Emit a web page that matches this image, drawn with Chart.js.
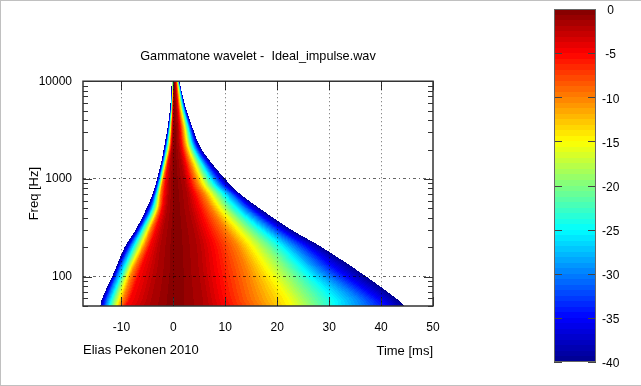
<!DOCTYPE html>
<html>
<head>
<meta charset="utf-8">
<title>Gammatone wavelet</title>
<script src="https://cdn.jsdelivr.net/npm/chart.js@4"></script>
<style>
  body { margin: 0; background: #fff; }
  canvas { position: absolute; top: 0; }
  #chart_wavelet { left: 0; }
  #chart_escala { left: 520px; }
  #moldura { position: absolute; left: 0; top: 0; width: 641px; height: 384px;
    border-top: 1px solid #c0c0c0; border-left: 1px solid #c0c0c0; border-bottom: 1px solid #c0c0c0; box-sizing: content-box; }
</style>
</head>
<body>
<canvas id="chart_wavelet" width="516" height="386"></canvas>
<canvas id="chart_escala" width="121" height="386"></canvas>
<div id="moldura"></div>
<script>
  // level (dB) reached at each time value of a row, rising then falling
  const levels = [-40, -35, -30, -25, -20, -15, -10, -5, -2, 0, -2, -5, -10, -15, -20, -25, -30, -35, -40];

  // frequencies (Hz) of the rows
  const freqs = [50, 60, 115, 204, 300, 496, 700, 872, 1400, 2170, 3400, 5550, 10000];

  // times (ms) where each row crosses the levels above
  const t50 = [-14.1, -13.6, -13, -12.3, -11.6, -10.9, -10.2, -9.2, -5, 0.3, 6.2, 10.2, 16.6, 22.5, 27, 31.2, 36.5, 41, 44.6];
  const t60 = [-13.7, -13.2, -12.6, -11.85, -11.2, -10.4, -9.6, -8.3, -4.5, 0.3, 6, 9.6, 15.7, 21.8, 26, 30.7, 35.5, 39.3, 42.9];
  const t115 = [-11.3, -10.9, -10.4, -9.7, -9.1, -8.5, -7.8, -6.4, -3.4, 0.5, 5.2, 8.6, 14.1, 18.2, 22, 25.3, 28.5, 31.8, 35.5];
  const t204 = [-9.3, -8.7, -8.2, -7.6, -7, -6.3, -5.6, -4.6, -2.7, 0.4, 4.8, 7.8, 12.2, 15.1, 18, 20.8, 23.3, 25.8, 28.3];
  const t300 = [-7.3, -6.85, -6.45, -6, -5.5, -4.95, -4.4, -3.45, -2.1, 0.4, 4.2, 6.6, 10.1, 12.5, 14.7, 17, 19, 20.9, 22.8];
  const t496 = [-5.2, -4.75, -4.35, -4, -3.6, -3.2, -2.8, -2.2, -1.3, 0.4, 3.2, 5.1, 7.4, 9, 10.6, 12.2, 13.8, 15.2, 16.7];
  const t700 = [-4, -3.7, -3.5, -3.25, -3, -2.75, -2.45, -1.8, -1, 0.3, 2.8, 4.1, 5.9, 7.2, 8.4, 9.7, 11, 12, 12.9];
  const t872 = [-3.45, -3.2, -3, -2.8, -2.6, -2.4, -2.2, -1.6, -0.9, 0.25, 2.4, 3.4, 4.8, 5.9, 6.9, 7.9, 8.9, 9.9, 11];
  const t1400 = [-2.45, -2.25, -2.1, -1.95, -1.8, -1.6, -1.4, -1.1, -0.6, 0.2, 1.65, 2.45, 3.4, 4.2, 4.85, 5.55, 6.2, 6.9, 7.6];
  const t2170 = [-1.75, -1.55, -1.4, -1.25, -1.05, -0.85, -0.7, -0.45, -0.3, 0.2, 1.1, 1.64, 2.28, 2.8, 3.25, 3.7, 4.15, 4.6, 5.1];
  const t3400 = [-1.1, -0.95, -0.85, -0.75, -0.65, -0.5, -0.4, -0.25, -0.1, 0.2, 0.9, 1.3, 1.75, 2.2, 2.5, 2.85, 3.1, 3.4, 3.65];
  const t5550 = [-0.6, -0.5, -0.45, -0.4, -0.3, -0.25, -0.2, -0.1, -0.05, 0.2, 0.6, 0.9, 1.15, 1.4, 1.6, 1.8, 2, 2.15, 2.3];
  const t10000 = [-0.3, -0.25, -0.2, -0.18, -0.15, -0.1, -0.05, -0.02, 0, 0.15, 0.35, 0.5, 0.65, 0.8, 0.9, 1, 1.05, 1.1, 1.15];
  const rows = [t50, t60, t115, t204, t300, t496, t700, t872, t1400, t2170, t3400, t5550, t10000];

  // axis ticks
  const xTicks = [-10, 0, 10, 20, 30, 40, 50];
  const yTicks = [50, 60, 70, 80, 90, 100, 200, 300, 400, 500, 600, 700, 800, 900, 1000, 2000, 3000, 4000, 5000, 6000, 7000, 8000, 9000, 10000];
  const yLabels = [100, 1000, 10000];
  const yGrid = [100, 1000];
  const barTicks = [-40, -35, -30, -25, -20, -15, -10, -5, 0];

  // colour map anchors
  const jetLevels = [-40, -35, -25, -15, -5, 0];
  const jetColors = [[0, 0, 143], [0, 0, 255], [0, 255, 255], [255, 255, 0], [255, 0, 0], [128, 0, 0]];
  const nBands = 64;

  const fonte = { family: "'Liberation Sans', Arial, sans-serif", size: 12 };
  const fonteTexto = { family: "'Liberation Sans', Arial, sans-serif", size: 13 };
  const fonteCss = "13px 'Liberation Sans', Arial, sans-serif";

  function jet(level) {
    // colours come in 64 flat bands, like the reference
    let band = Math.floor((level + 40) / 40 * nBands);
    band = Math.max(0, Math.min(nBands - 1, band));
    const l = -40 + (band + 0.5) * 40 / nBands;
    let i = 0;
    while (i < jetLevels.length - 2 && l > jetLevels[i + 1]) i++;
    const k = (l - jetLevels[i]) / (jetLevels[i + 1] - jetLevels[i]);
    const c = jetColors[i].map((v, n) => Math.round(v + (jetColors[i + 1][n] - v) * k));
    return `rgb(${c[0]},${c[1]},${c[2]})`;
  }

  // crossing times at any log frequency, smooth curve through the rows
  function tempos(linhas, lf) {
    const u = linhas.map(l => Math.log10(l[0].y));
    let r = 0;
    while (r < u.length - 2 && lf > u[r + 1]) r++;
    const h = u[r + 1] - u[r];
    const s = (lf - u[r]) / h;
    const inc = (a, b, j) => (linhas[b][j].x - linhas[a][j].x) / (u[b] - u[a]);
    return linhas[r].map((p, j) => {
      const m0 = r > 0 ? inc(r - 1, r + 1, j) : inc(r, r + 1, j);
      const m1 = r < u.length - 2 ? inc(r, r + 2, j) : inc(r, r + 1, j);
      const y0 = p.x, y1 = linhas[r + 1][j].x;
      return (2 * s ** 3 - 3 * s ** 2 + 1) * y0 + (s ** 3 - 2 * s ** 2 + s) * h * m0 +
        (-2 * s ** 3 + 3 * s ** 2) * y1 + (s ** 3 - s ** 2) * h * m1;
    });
  }

  // paints the map between the rows, pixel by pixel, through the chart scales
  const mapaPlugin = {
    id: 'mapa',
    beforeDatasetsDraw(chart) {
      const { ctx, chartArea: a, scales } = chart;
      const linhas = chart.data.datasets.map(d => d.data);
      ctx.save();
      for (let py = Math.floor(a.top); py < a.bottom; py++) {
        const ts = tempos(linhas, Math.log10(scales.y.getValueForPixel(py + 0.5)));
        let j = 0;
        for (let px = Math.floor(a.left); px < a.right; px++) {
          const t = scales.x.getValueForPixel(px + 0.5);
          if (t < ts[0] || t > ts[ts.length - 1]) continue;
          while (j < ts.length - 2 && t > ts[j + 1]) j++;
          const dt = Math.max(ts[j + 1] - ts[j], 0.001);
          const nivel = levels[j] + (levels[j + 1] - levels[j]) * (t - ts[j]) / dt;
          ctx.fillStyle = jet(nivel);
          ctx.fillRect(px, py, 1, 1);
        }
      }
      ctx.restore();
    },
    afterDatasetsDraw(chart) {
      const { ctx, chartArea: a, scales } = chart;
      ctx.save();
      ctx.strokeStyle = '#333';
      ctx.lineWidth = 1;
      ctx.beginPath();
      xTicks.forEach(v => {
        const x = Math.round(scales.x.getPixelForValue(v)) + 0.5;
        ctx.moveTo(x, a.top); ctx.lineTo(x, a.top + 9);
        ctx.moveTo(x, a.bottom); ctx.lineTo(x, a.bottom - 9);
      });
      yTicks.forEach(v => {
        const y = Math.round(scales.y.getPixelForValue(v)) + 0.5;
        const len = yLabels.includes(v) ? 9 : 5;
        ctx.moveTo(a.left, y); ctx.lineTo(a.left + len, y);
        ctx.moveTo(a.right, y); ctx.lineTo(a.right - len, y);
      });
      ctx.stroke();
      ctx.lineWidth = 1.5;
      ctx.strokeRect(a.left, a.top, a.right - a.left, a.bottom - a.top);
      ctx.fillStyle = '#000';
      ctx.font = fonteCss;
      ctx.textAlign = 'left';
      ctx.textBaseline = 'middle';
      ctx.fillText('Elias Pekonen 2010', a.left, 350);
      ctx.restore();
    }
  };

  const grafico_wavelet = document.getElementById('chart_wavelet');

  new Chart(grafico_wavelet, {
    type: 'scatter',
    data: {
      datasets: freqs.map((f, i) => ({
        label: f + ' Hz',
        data: rows[i].map(t => ({ x: t, y: f })),
        pointRadius: 0,
        showLine: false
      }))
    },
    options: {
      responsive: false,
      animation: false,
      layout: { padding: { right: 83 } },
      plugins: {
        legend: { display: false },
        tooltip: { enabled: false },
        title: {
          display: true,
          fullSize: false,
          text: 'Gammatone wavelet -  Ideal_impulse.wav',
          color: '#000',
          font: { family: fonte.family, size: 12.7, weight: 'normal' },
          padding: { top: 49, bottom: 17 }
        }
      },
      scales: {
        x: {
          type: 'linear',
          min: -17.4,
          max: 50,
          afterBuildTicks: s => { s.ticks = xTicks.map(v => ({ value: v })); },
          afterFit: s => { s.height = 80; },
          ticks: { color: '#000', font: fonte, padding: 14, autoSkip: false, maxRotation: 0 },
          grid: { z: 1, drawTicks: false, color: c => (c.tick.value === 50 ? 'transparent' : 'rgba(0,0,0,0.6)') },
          border: { display: false, dash: [1, 3] },
          title: { display: true, text: 'Time [ms]', align: 'end', color: '#000', font: fonteTexto, padding: { top: 0, bottom: 27 } }
        },
        y: {
          type: 'logarithmic',
          min: 50,
          max: 10000,
          afterBuildTicks: s => { s.ticks = yTicks.map(v => ({ value: v })); },
          afterFit: s => { s.width = 83; },
          ticks: {
            color: '#000', font: fonte, padding: 11, autoSkip: false,
            callback: v => (yLabels.includes(v) ? String(v) : '')
          },
          grid: { z: 1, drawTicks: false, color: c => (yGrid.includes(c.tick.value) ? 'rgba(0,0,0,0.6)' : 'transparent') },
          border: { display: false, dash: [3, 3, 1, 3] },
          title: { display: true, text: 'Freq [Hz]', color: '#000', font: fonteTexto, padding: { top: 27, bottom: 0 } }
        }
      }
    },
    plugins: [mapaPlugin]
  });

  // colour bar
  const escalaPlugin = {
    id: 'escala',
    afterDatasetsDraw(chart) {
      const { ctx, chartArea: a, scales } = chart;
      ctx.save();
      ctx.strokeStyle = '#444';
      ctx.lineWidth = 1;
      ctx.beginPath();
      barTicks.forEach(v => {
        const y = Math.round(scales.y.getPixelForValue(v)) + 0.5;
        ctx.moveTo(a.left, y); ctx.lineTo(a.left + 8, y);
        ctx.moveTo(a.right, y); ctx.lineTo(a.right - 8, y);
      });
      ctx.stroke();
      ctx.strokeStyle = '#666';
      ctx.strokeRect(a.left + 0.5, a.top + 0.5, a.right - a.left - 1, a.bottom - a.top - 1);
      ctx.restore();
    }
  };

  function gradienteBarra(context) {
    const { ctx, chartArea: a } = context.chart;
    if (!a) return '#000';
    const g = ctx.createLinearGradient(0, a.bottom, 0, a.top);
    for (let b = 0; b < nBands; b++) {
      const c = jet(-40 + (b + 0.5) * 40 / nBands);
      g.addColorStop(b / nBands, c);
      g.addColorStop((b + 1) / nBands, c);
    }
    return g;
  }

  const grafico_escala = document.getElementById('chart_escala');

  new Chart(grafico_escala, {
    type: 'bar',
    data: {
      labels: ['dB'],
      datasets: [{
        label: 'dB',
        data: [[-40, 0]],
        backgroundColor: gradienteBarra,
        barPercentage: 1,
        categoryPercentage: 1
      }]
    },
    options: {
      responsive: false,
      animation: false,
      layout: { padding: { left: 34, top: 9, bottom: 24, right: 0 } },
      plugins: { legend: { display: false }, tooltip: { enabled: false } },
      scales: {
        x: { display: false },
        y: {
          position: 'right',
          min: -40,
          max: 0,
          afterBuildTicks: s => { s.ticks = barTicks.map(v => ({ value: v })); },
          afterFit: s => { s.width = 45; s.paddingTop = 0; s.paddingBottom = 0; },
          ticks: { color: '#000', font: fonte, padding: -2, labelOffset: 2, crossAlign: 'center', autoSkip: false },
          grid: { display: false },
          border: { display: false }
        }
      }
    },
    plugins: [escalaPlugin]
  });
</script>
</body>
</html>
